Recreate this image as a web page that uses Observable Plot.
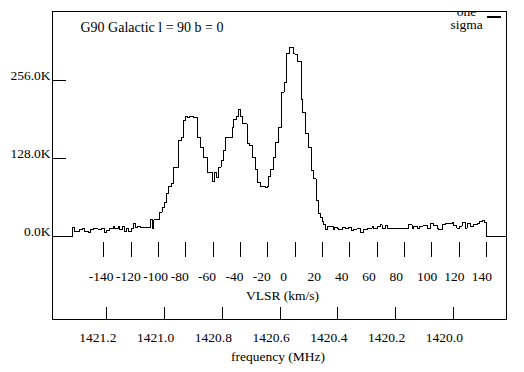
<!DOCTYPE html>
<html><head><meta charset="utf-8">
<script src="https://cdn.jsdelivr.net/npm/d3@7"></script>
<script src="https://cdn.jsdelivr.net/npm/@observablehq/plot@0.6"></script>
<style>
html,body{margin:0;padding:0;background:#fff;}
svg{display:block;}
svg text{font-family:"Liberation Serif","Times New Roman",serif;}
</style></head><body><div id="chart"></div>
<script>
// Spectrum: step starts (VLSR km/s) and antenna temperature (K)
const velocity = [-177.4, -162.9, -161.2, -159.2, -157.5, -155.6, -153.9, -151.4, -149.7, -147.7,
  -144.1, -141.7, -139.3, -138.0, -135.6, -133.1, -131.9, -129.5, -128.3, -126.3,
  -125.1, -123.4, -122.1, -119.7, -118.5, -116.8, -115.4, -113.2, -107.5, -105.8,
  -104.4, -103.4, -100.7, -99.0, -97.3, -95.8, -94.2, -92.5, -90.7, -88.8,
  -85.2, -83.4, -81.9, -80.5, -78.6, -77.3, -76.1, -74.2, -71.7, -69.3,
  -66.9, -64.0, -60.7, -59.1, -57.6, -55.9, -54.2, -52.3, -51.0, -46.1,
  -45.0, -43.0, -41.3, -40.1, -38.8, -35.2, -33.5, -31.5, -29.1, -27.4,
  -25.4, -21.8, -20.5, -19.4, -18.1, -15.7, -14.7, -12.5, -10.1, -8.1,
  -6.2, -4.5, -1.5, -0.1, 1.8, 4.3, 5.5, 7.5, 9.9, 12.1,
  13.5, 15.3, 17.2, 18.4, 19.9, 20.8, 22.1, 23.5, 25.7, 27.7,
  28.7, 30.6, 31.8, 34.3, 36.7, 39.1, 40.9, 42.8, 45.2, 47.7,
  50.1, 52.6, 56.2, 57.4, 59.9, 62.3, 63.5, 65.9, 67.6, 73.2,
  83.0, 85.5, 86.6, 89.5, 91.0, 93.5, 96.4, 98.8, 101.2, 103.7,
  104.9, 107.4, 109.8, 114.7, 115.9, 118.3, 120.2, 122.0, 124.4, 125.7,
  128.1, 130.5, 133.0, 134.9, 136.6, 138.3, 139.8, 154.5];
const temperature = [0, 14.3, 7.4, 8.2, 11.0, 12.6, 8.7, 6.1, 11.0, 12.6,
  11.0, 12.6, 7.1, 9.4, 12.6, 16.9, 12.6, 16.9, 11.0, 16.9,
  8.7, 12.6, 8.2, 12.6, 21.8, 14.3, 16.9, 14.3, 15.3, 27.4,
  12.6, 27.1, 27.9, 39.9, 47.1, 56.3, 70.1, 82.0, 86.5, 113.7,
  157.5, 162.9, 190.4, 196.9, 195.3, 196.9, 196.4, 195.8, 162.9, 146.5,
  130.1, 105.5, 90.7, 105.5, 97.3, 113.7, 124.7, 141.1, 162.9, 179.4,
  191.5, 196.9, 207.9, 196.9, 184.9, 152.1, 149.3, 129.1, 109.5, 89.1,
  82.0, 79.9, 82.0, 98.5, 109.5, 129.6, 154.2, 179.4, 236.8, 252.7,
  299.8, 309.7, 299.8, 298.7, 287.7, 224.3, 204.0, 168.5, 146.5, 108.3,
  94.7, 59.1, 37.7, 31.2, 24.6, 19.7, 11.0, 16.4, 17.0, 11.5,
  15.3, 13.7, 11.5, 15.3, 12.6, 15.3, 9.8, 11.5, 12.6, 7.1,
  11.5, 13.7, 17.0, 12.6, 17.0, 19.1, 13.7, 18.1, 13.7, 12.6,
  19.1, 12.6, 17.0, 12.6, 17.0, 18.1, 12.6, 21.9, 18.1, 13.7,
  11.5, 19.1, 20.8, 22.4, 18.1, 13.7, 17.0, 22.4, 13.7, 20.8,
  17.0, 19.1, 20.8, 24.6, 26.8, 22.4, 0, 0];

const temperatureTicks = [0, 128, 256];
const velocityTicks = [-140, -120, -100, -80, -60, -40, -20, 0, 20, 40, 60, 80, 100, 120, 140];
const frequencyTicks = [1421.2, 1421.0, 1420.8, 1420.6, 1420.4, 1420.2, 1420.0];
const titleText = "G90 Galactic l = 90 b = 0";
const velocityLabel = "VLSR (km/s)";
const frequencyLabel = "frequency (MHz)";
const sigmaK = 3.3;

// Doppler conversion frequency -> VLSR (frequency of VLSR 0, km/s per MHz)
const zeroVelocityFreq = 1420.548;
const kmsPerMHz = 211.06;
const freqToVel = f => (zeroVelocityFreq - f) * kmsPerMHz;

const spectrum = velocity.map((v, i) => ({v, t: temperature[i]}));
const serif = "Liberation Serif";

const sigmaBar = (index, scales, values, dims) => {
  const h = Math.max(1, scales.y(0) - scales.y(sigmaK));
  const r = document.createElementNS("http://www.w3.org/2000/svg", "rect");
  const right = dims.width - dims.marginRight;
  r.setAttribute("x", right - 19);
  r.setAttribute("width", 14);
  r.setAttribute("y", dims.marginTop + 6 - h / 2);
  r.setAttribute("height", h);
  r.setAttribute("fill", "black");
  return r;
};

const txt = {fill: "black", fontFamily: serif, fontSize: 13.5};

const chart = Plot.plot({
  width: 524, height: 372,
  marginLeft: 52, marginRight: 18, marginTop: 11, marginBottom: 53,
  x: {domain: [-177.4, 154.5], axis: null},
  y: {domain: [-136.2, 369.2], axis: null},
  style: {fontFamily: serif, fontSize: "13.5px", background: "white", color: "black"},
  marks: [
    Plot.line(spectrum, {x: "v", y: "t", curve: "step-after", stroke: "black", strokeWidth: 1, shapeRendering: "crispEdges"}),
    Plot.tickY(temperatureTicks, {y: d => d, insetRight: 440, stroke: "black", shapeRendering: "crispEdges"}),
    Plot.text(temperatureTicks, {...txt, y: d => d, text: d => d.toFixed(1) + "K", frameAnchor: "left", textAnchor: "end", lineAnchor: "bottom", dx: -2}),
    Plot.tickX(velocityTicks, {x: d => d, insetTop: 231, insetBottom: 62, stroke: "black", shapeRendering: "crispEdges"}),
    Plot.text(velocityTicks, {...txt, x: d => d, text: d => String(d), frameAnchor: "bottom", textAnchor: "start", lineAnchor: "bottom", dx: -15, dy: -39}),
    Plot.text([velocityLabel], {...txt, text: d => d, frameAnchor: "bottom", lineAnchor: "bottom", dx: 3, dy: -20}),
    Plot.tickX(frequencyTicks, {x: freqToVel, insetTop: 296, stroke: "black", shapeRendering: "crispEdges"}),
    Plot.text(frequencyTicks, {...txt, x: freqToVel, text: d => d.toFixed(1), frameAnchor: "bottom", lineAnchor: "bottom", dx: -9, dy: 22}),
    Plot.text([frequencyLabel], {...txt, text: d => d, frameAnchor: "bottom", lineAnchor: "bottom", dx: -1.5, dy: 41}),
    Plot.text([titleText], {...txt, fontSize: 14, text: d => d, frameAnchor: "top-left", textAnchor: "start", lineAnchor: "bottom", dx: 28, dy: 20.7}),
    Plot.text(["one"], {...txt, text: d => d, frameAnchor: "top-right", textAnchor: "middle", lineAnchor: "bottom", dx: -40, dy: 4.5, clip: "frame"}),
    Plot.text(["sigma"], {...txt, text: d => d, frameAnchor: "top-right", textAnchor: "middle", lineAnchor: "bottom", dx: -40, dy: 17}),
    sigmaBar,
    Plot.frame({stroke: "black", shapeRendering: "crispEdges"})
  ]
});
document.getElementById("chart").appendChild(chart);
</script>
</body></html>
